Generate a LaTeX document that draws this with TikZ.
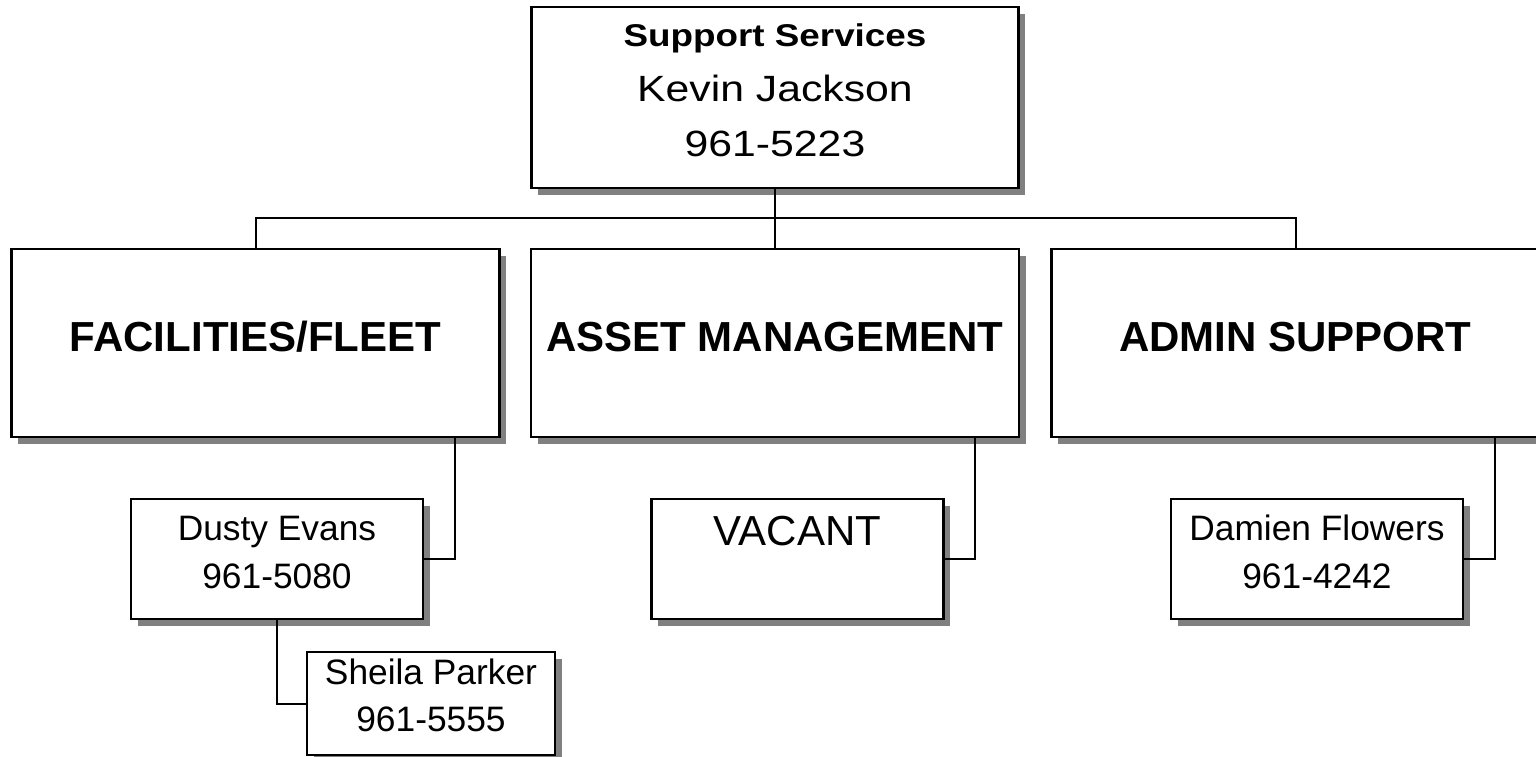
\documentclass[tikz,border=0pt]{standalone}
\usepackage{fontspec}
\setmainfont{Liberation Sans}
\newfontfamily\widefont[FakeStretch=1.17]{Liberation Sans}
\usepackage{tikz}
\usetikzlibrary{shadows}
\usetikzlibrary{calc}

\tikzset{
    orgbox/.style={draw, line width=1.7pt, fill=white, inner sep=0pt,
        drop shadow={shadow xshift=5pt, shadow yshift=-5pt, fill=black!50, opacity=1}},
    headbox/.style={orgbox, minimum width=366pt, minimum height=141pt},
    staffbox/.style={orgbox, minimum width=219pt, minimum height=90pt},
    link/.style={line width=1.5pt},
    headtext/.style={anchor=base, inner sep=0pt, font=\fontsize{31.5}{36}\selectfont\bfseries},
    stafftext/.style={anchor=base, inner sep=0pt, align=center, font=\fontsize{26.5}{36}\selectfont},
}

\begin{document}
\begin{tikzpicture}[x=0.75pt,y=0.75pt,yscale=-1,xscale=1]
        \useasboundingbox (0,0) rectangle (1536,757);

        % Boxes
        \node [orgbox, minimum width=365.25pt, minimum height=135.75pt] (ss) at (775,97.5) {};
        \node [headbox] (ff) at (255.5,343) {};
        \node [headbox] (am) at (775,343) {};
        \node [headbox] (ad) at (1295.5,343) {};
        \node [staffbox] (de) at (277,559) {};
        \node [staffbox] (vac) at (797.5,559) {};
        \node [staffbox] (df) at (1317,559) {};
        \node [orgbox, minimum width=186pt, minimum height=77.25pt] (sp) at (431,703.5) {};

        % Text Nodes (base = baseline of the last line)
        \node [anchor=base, inner sep=0pt, align=center, font=\widefont\fontsize{27.4}{41}\selectfont] (ss-t) at (775,156) {%
            {\fontsize{23.6}{41}\selectfont\bfseries Support Services}\\
            Kevin Jackson\\
            961-5223
        };
        \node [headtext] (ff-t) at (255.5,351) {FACILITIES/FLEET};
        \node [headtext] (am-t) at (775,351) {ASSET MANAGEMENT};
        \node [headtext] (ad-t) at (1295.5,351) {ADMIN SUPPORT};
        \node [stafftext] (de-t) at (277,588) {Dusty Evans\\ 961-5080};
        \node [anchor=base, inner sep=0pt, font=\fontsize{31.5}{36}\selectfont] (vac-t) at (797.5,545) {VACANT};
        \node [stafftext] (df-t) at (1317,588) {Damien Flowers\\ 961-4242};
        \node [stafftext, font=\fontsize{26.5}{35.25}\selectfont] (sp-t) at (431,731) {Sheila Parker\\ 961-5555};

        % Connectors
        \coordinate (bus) at (775,218);
        \coordinate (ff-drop) at ($(ff.south east)+(-45.5,0)$);
        \coordinate (am-drop) at ($(am.south east)+(-45,0)$);
        \coordinate (ad-drop) at ($(ad.south east)+(-45.5,0)$);
        \draw [link] (ss.south) -- (bus) -- (am.north);
        \draw [link] (ff.north) |- (bus) -| (ad.north);
        \draw [link] (ff-drop) |- (de.east);
        \draw [link] (am-drop) |- (vac.east);
        \draw [link] (ad-drop) |- (df.east);
        \draw [link] (de.south) |- (sp.west);
\end{tikzpicture}
\end{document}
